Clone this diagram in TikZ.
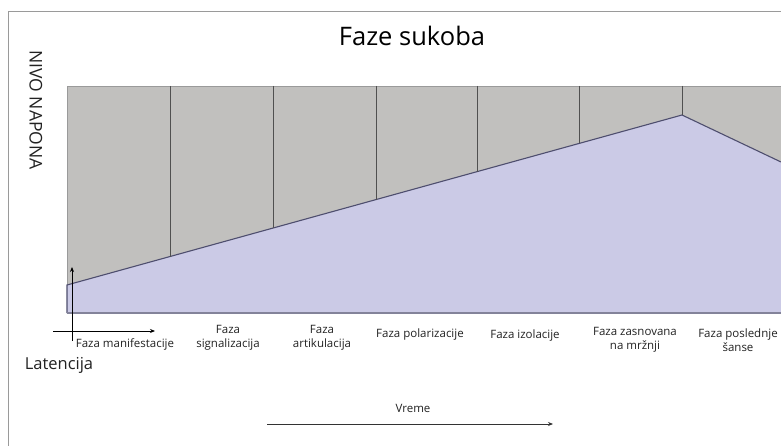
\documentclass[tikz,border=0pt]{standalone}
\usepackage{fontspec}
\setmainfont{Open Sans}
\usetikzlibrary{arrows.meta}
\definecolor{framecol}{HTML}{9A9A9A}
\definecolor{graycol}{HTML}{C1C0BE}
\definecolor{purp}{HTML}{CBCAE6}
\definecolor{edgecol}{HTML}{4E4E6E}
\definecolor{divcol}{HTML}{505050}
\definecolor{txtcol}{HTML}{222222}
\tikzset{
  phase/.style={font=\fontsize{11.5}{13.5}\selectfont, text=txtcol, align=center, inner sep=0pt},
  divider/.style={draw=divcol, line width=1pt},
  smallarrow/.style={draw=black, line width=0.9pt, -{Stealth[length=5pt,width=4pt]}},
}
\begin{document}
\begin{tikzpicture}[x=1pt,y=-1pt]
\useasboundingbox (0,0) rectangle (781,446);
\fill[white] (0,0) rectangle (781,446);
% outer frame
\coordinate (fbl) at (8,446);
\coordinate (ftl) at (8,12);
\coordinate (ftr) at (781,12);
\draw[framecol, line width=1pt] (fbl) -- (ftl) -- (ftr);
% gray area
\coordinate (gtl) at (67,86);
\coordinate (gbr) at (781,313);
\fill[graycol] (gtl) rectangle (gbr);
\draw[framecol, line width=0.8pt] (67,313) -- (gtl) -- (781,86);
% purple area
\coordinate (p0) at (67,313);
\coordinate (p1) at (67,285);
\coordinate (peak) at (682,115);
\coordinate (pr) at (781,162);
\coordinate (br) at (781,313);
\fill[purp] (p0) -- (p1) -- (peak) -- (pr) -- (br) -- cycle;
\draw[edgecol, line width=1.1pt] (p0) -- (p1) -- (peak) -- (pr);
\draw[edgecol!70, line width=1.4pt] (p0) -- (br);
% dividers
\draw[divider] (170,86) -- (170,256.5);
\draw[divider] (273,86) -- (273,228.1);
\draw[divider] (376,86) -- (376,199.6);
\draw[divider] (477,86) -- (477,171.7);
\draw[divider] (579,86) -- (579,143.5);
\draw[divider] (682,86) -- (peak);
% title and axis label
\node[font=\fontsize{25.5}{30}\selectfont, text=black] (title) at (412,36) {Faze sukoba};
\node[font=\fontsize{17.5}{20}\selectfont, text=txtcol, rotate=-90] (nivo) at (36,110) {NIVO NAPONA};
% latency arrows
\coordinate (va0) at (72,341);
\coordinate (va1) at (72,267);
\coordinate (ha0) at (53,331);
\coordinate (ha1) at (155,331);
\draw[smallarrow] (va0) -- (va1);
\draw[smallarrow] (ha0) -- (ha1);
\node[font=\fontsize{16.5}{20}\selectfont, text=txtcol] (lat) at (59,365) {Latencija};
% phase labels
\node[phase] (f1) at (125,344) {Faza manifestacije};
\node[phase] (f2) at (228,338) {Faza\\signalizacija};
\node[phase] (f3) at (322,338) {Faza\\artikulacija};
\node[phase] (f4) at (420,335) {Faza polarizacije};
\node[phase] (f5) at (525,336) {Faza izolacije};
\node[phase] (f6) at (635,340) {Faza zasnovana\\na mržnji};
\node[phase] (f7) at (738,340) {Faza poslednje\\šanse};
% time arrow
\node[phase] (vreme) at (413,408) {Vreme};
\coordinate (ta0) at (267,424);
\coordinate (ta1) at (553,424);
\draw[smallarrow, draw=black!80] (ta0) -- (ta1);
\end{tikzpicture}
\end{document}
